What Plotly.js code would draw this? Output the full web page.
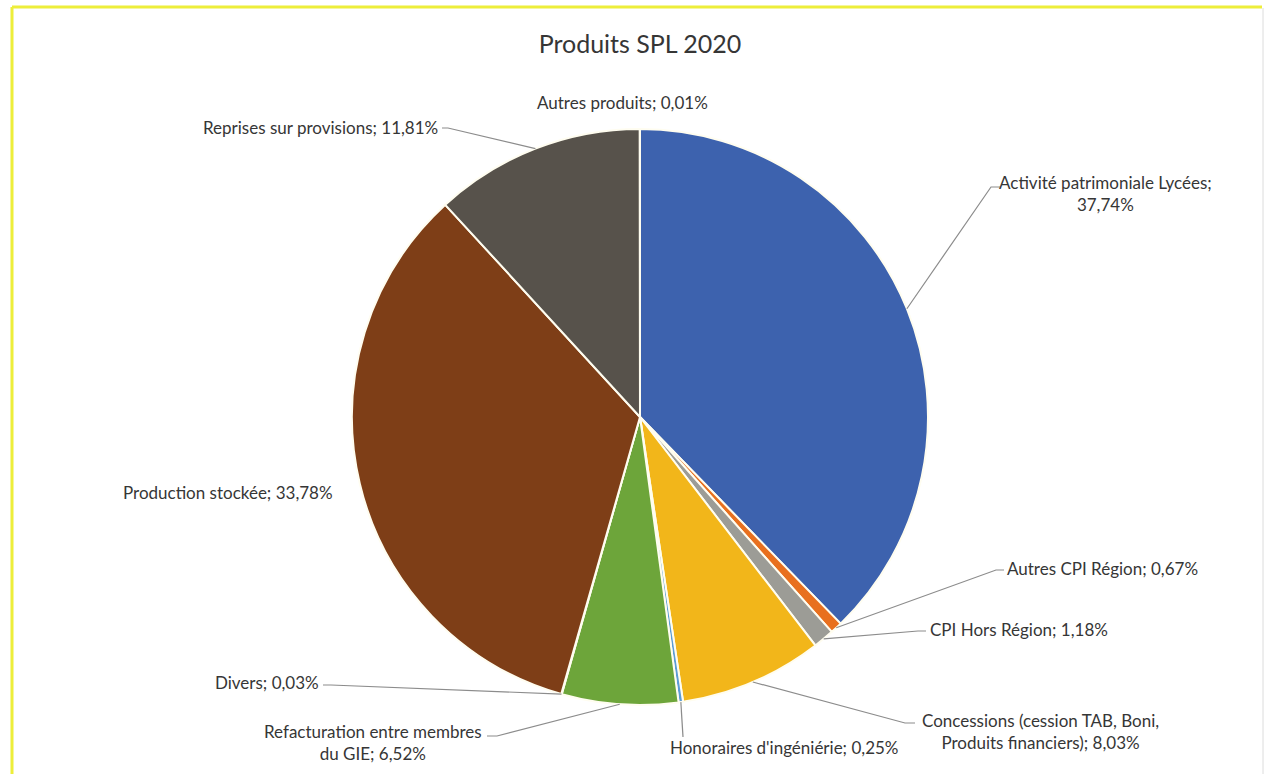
<!DOCTYPE html>
<html>
<head>
<meta charset="utf-8">
<script src="https://cdn.plot.ly/plotly-3.0.1.min.js"></script>
<style>
  html, body { margin: 0; padding: 0; background: #ffffff; }
  #chart { width: 1268px; height: 774px; }
</style>
</head>
<body>
<div id="chart"></div>
<script>
// ---- data ----
const categories = [
  "Activité patrimoniale Lycées",
  "Autres CPI Région",
  "CPI Hors Région",
  "Concessions (cession TAB, Boni,<br>Produits financiers)",
  "Honoraires d'ingéniérie",
  "Refacturation entre membres<br>du GIE",
  "Divers",
  "Production stockée",
  "Reprises sur provisions",
  "Autres produits"
];
const values = [37.74, 0.67, 1.18, 8.03, 0.25, 6.52, 0.03, 33.78, 11.81, 0.01];
const separators = [";<br>", "; ", "; ", "; ", "; ", "; ", "; ", "; ", "; ", "; "];
const colors = ["#3D62AE", "#E8701E", "#9C9C96", "#F2B61A", "#5B9BD5",
                "#6DA53A", "#264478", "#7E3E17", "#57524B", "#997300"];
const chartTitle = "Produits SPL 2020";

// ---- layout helpers ----
const W = 1268, H = 774;
const CX = 640, CY = 417, R = 288;
const px = x => x / W;
const py = y => 1 - y / H;

// label placement (pixels): position, anchors, and where the leader line attaches
const labelPos = [
  {x: 1105, y: 193, xa: "center", ya: "middle", attach: [1000, 187], elbow: [991, 187]},
  {x: 1005, y: 568, xa: "left",   ya: "middle", attach: [1004, 570], elbow: [996, 570]},
  {x: 928,  y: 629, xa: "left",   ya: "middle", attach: [926, 631],  elbow: [918, 631]},
  {x: 1040, y: 731, xa: "center", ya: "middle", attach: [915, 723],  elbow: [905, 723]},
  {x: 784,  y: 747, xa: "center", ya: "middle", attach: [683, 737],  elbow: [683, 737]},
  {x: 373,  y: 742, xa: "center", ya: "middle", attach: [487, 736],  elbow: [497, 736]},
  {x: 321,  y: 682, xa: "right",  ya: "middle", attach: [323, 685],  elbow: [331, 685]},
  {x: 335,  y: 493, xa: "right",  ya: "middle", attach: null},
  {x: 440,  y: 127, xa: "right",  ya: "middle", attach: [442, 128],  elbow: [448, 128]},
  {x: 622,  y: 103, xa: "center", ya: "middle", attach: null}
];

const total = values.reduce((a, b) => a + b, 0);
const fmt = v => v.toFixed(2).replace(".", ",") + "%";

const annotations = [];
const shapes = [];
let cum = 0;
values.forEach((v, i) => {
  const mid = (cum + v / 2) / total;
  cum += v;
  const th = mid * 2 * Math.PI;
  const ex = CX + R * Math.sin(th);
  const ey = CY - R * Math.cos(th);
  const L = labelPos[i];
  annotations.push({
    xref: "paper", yref: "paper",
    x: px(L.x), y: py(L.y), xanchor: L.xa, yanchor: L.ya,
    text: categories[i] + separators[i] + fmt(v),
    showarrow: false, align: "center",
    font: {family: "Lato, 'Open Sans', sans-serif", size: 17, color: "#363636"}
  });
  if (L.attach) {
    shapes.push({
      type: "path", xref: "paper", yref: "paper",
      path: `M ${px(ex)} ${py(ey)} L ${px(L.elbow[0])} ${py(L.elbow[1])} L ${px(L.attach[0])} ${py(L.attach[1])}`,
      line: {color: "#8c8c8c", width: 1.2}
    });
  }
});

// page frame (yellow left/top, faint gray right)
shapes.push({type: "line", xref: "paper", yref: "paper", x0: px(12), x1: px(12), y0: 0, y1: py(7),
             line: {color: "#EDEE3A", width: 3}});
shapes.push({type: "line", xref: "paper", yref: "paper", x0: px(12), x1: px(1262), y0: py(7), y1: py(7),
             line: {color: "#EDEE3A", width: 3}});
shapes.push({type: "line", xref: "paper", yref: "paper", x0: px(1263), x1: px(1263), y0: 0, y1: py(8),
             line: {color: "#dcdcdc", width: 1}});

const trace = {
  type: "pie",
  labels: categories,
  values: values,
  sort: false,
  direction: "clockwise",
  rotation: 0,
  textinfo: "none",
  hoverinfo: "label+percent",
  marker: {colors: colors, line: {color: "#fffdf0", width: 2}},
  domain: {x: [px(CX - R), px(CX + R)], y: [py(CY + R), py(CY - R)]},
  showlegend: false
};

const layout = {
  width: W, height: H,
  margin: {l: 0, r: 0, t: 0, b: 0},
  paper_bgcolor: "#ffffff",
  title: {
    text: chartTitle,
    x: px(640), xanchor: "center",
    y: py(44), yanchor: "middle",
    font: {family: "Lato, 'Open Sans', sans-serif", size: 25, color: "#363636"}
  },
  showlegend: false,
  annotations: annotations,
  shapes: shapes
};

Plotly.newPlot("chart", [trace], layout, {displayModeBar: false, staticPlot: true});
</script>
</body>
</html>
